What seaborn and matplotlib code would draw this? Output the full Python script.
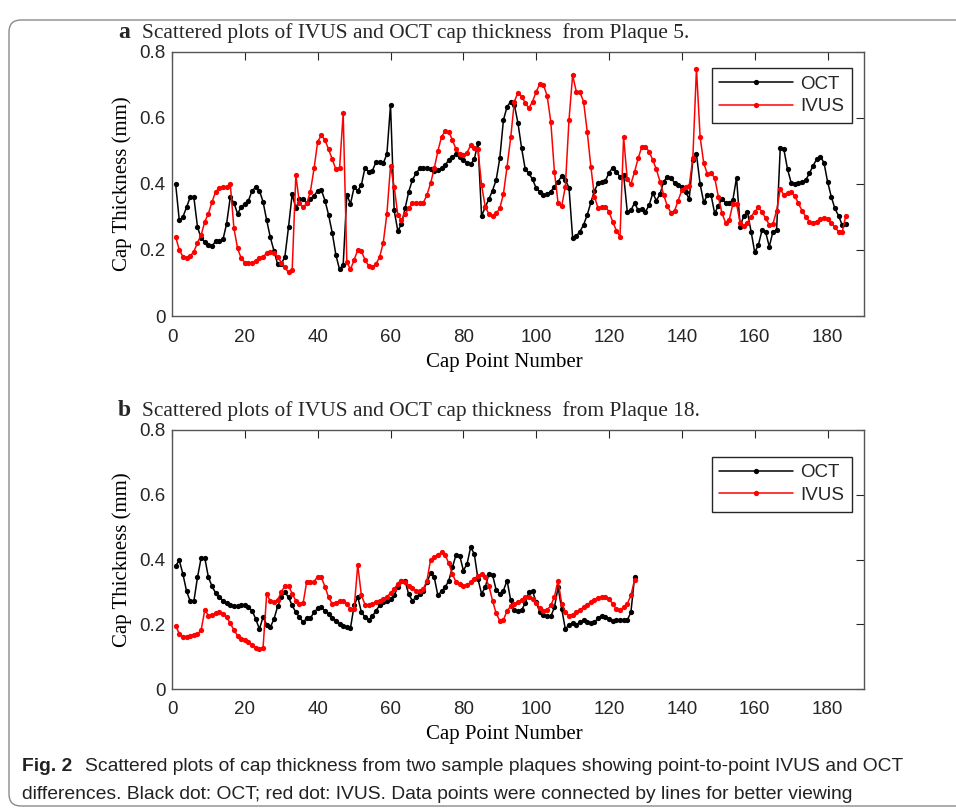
import numpy as np
import pandas as pd
import seaborn as sns
import matplotlib.pyplot as plt
from matplotlib.patches import FancyBboxPatch
from matplotlib.transforms import IdentityTransform

# cap thickness (mm), one value per cap point
oct_a = [0.40, 0.29, 0.30, 0.33, 0.36, 0.36, 0.27, 0.235, 0.225, 0.215,
         0.212, 0.227, 0.227, 0.232, 0.28, 0.36, 0.343, 0.31, 0.33, 0.34,
         0.35, 0.38, 0.39, 0.38, 0.346, 0.29, 0.238, 0.198, 0.157, 0.157,
         0.18, 0.27, 0.37, 0.326, 0.354, 0.354, 0.343, 0.356, 0.364, 0.38,
         0.382, 0.35, 0.306, 0.252, 0.185, 0.141, 0.155, 0.367, 0.34, 0.39,
         0.38, 0.397, 0.45, 0.436, 0.44, 0.466, 0.466, 0.463, 0.49, 0.64,
         0.32, 0.258, 0.278, 0.326, 0.377, 0.412, 0.432, 0.447, 0.447, 0.447,
         0.444, 0.44, 0.442, 0.447, 0.457, 0.473, 0.483, 0.49, 0.483, 0.473,
         0.465, 0.46, 0.475, 0.525, 0.303, 0.33, 0.354, 0.38, 0.412, 0.478,
         0.594, 0.634, 0.65, 0.64, 0.584, 0.508, 0.444, 0.432, 0.414, 0.387,
         0.377, 0.367, 0.369, 0.377, 0.392, 0.407, 0.424, 0.412, 0.389, 0.237,
         0.242, 0.256, 0.276, 0.306, 0.344, 0.38, 0.402, 0.407, 0.41, 0.434,
         0.45, 0.437, 0.422, 0.427, 0.316, 0.32, 0.343, 0.32, 0.323, 0.316,
         0.336, 0.372, 0.35, 0.37, 0.407, 0.422, 0.417, 0.404, 0.397, 0.392,
         0.377, 0.354, 0.473, 0.49, 0.40, 0.344, 0.367, 0.367, 0.311, 0.334,
         0.354, 0.343, 0.341, 0.352, 0.419, 0.271, 0.304, 0.314, 0.256, 0.193,
         0.215, 0.26, 0.254, 0.21, 0.256, 0.26, 0.508, 0.505, 0.445, 0.404,
         0.40, 0.402, 0.405, 0.412, 0.432, 0.455, 0.475, 0.483, 0.465, 0.407,
         0.362, 0.326, 0.304, 0.276, 0.28]

ivus_a = [0.24, 0.20, 0.18, 0.175, 0.182, 0.195, 0.222, 0.245, 0.286, 0.31,
          0.346, 0.377, 0.387, 0.392, 0.39, 0.40, 0.266, 0.205, 0.175, 0.162,
          0.16, 0.16, 0.167, 0.175, 0.18, 0.19, 0.193, 0.19, 0.18, 0.162,
          0.147, 0.132, 0.139, 0.427, 0.341, 0.33, 0.341, 0.377, 0.447, 0.528,
          0.548, 0.533, 0.505, 0.475, 0.444, 0.447, 0.614, 0.165, 0.141, 0.17,
          0.20, 0.197, 0.17, 0.152, 0.147, 0.158, 0.178, 0.222, 0.309, 0.455,
          0.392, 0.306, 0.29, 0.309, 0.326, 0.341, 0.341, 0.341, 0.343, 0.367,
          0.402, 0.447, 0.50, 0.543, 0.56, 0.558, 0.533, 0.505, 0.49, 0.488,
          0.495, 0.517, 0.508, 0.505, 0.397, 0.331, 0.309, 0.303, 0.311, 0.326,
          0.37, 0.453, 0.541, 0.65, 0.677, 0.665, 0.646, 0.63, 0.65, 0.68,
          0.703, 0.70, 0.667, 0.589, 0.437, 0.343, 0.333, 0.392, 0.594, 0.73,
          0.68, 0.678, 0.65, 0.559, 0.453, 0.362, 0.326, 0.331, 0.331, 0.316,
          0.286, 0.259, 0.24, 0.543, 0.414, 0.40, 0.437, 0.478, 0.513, 0.513,
          0.498, 0.473, 0.444, 0.407, 0.367, 0.333, 0.313, 0.319, 0.35, 0.382,
          0.392, 0.394, 0.478, 0.75, 0.543, 0.463, 0.43, 0.432, 0.419, 0.362,
          0.311, 0.283, 0.291, 0.34, 0.34, 0.283, 0.273, 0.283, 0.301, 0.316,
          0.329, 0.316, 0.296, 0.276, 0.279, 0.319, 0.384, 0.367, 0.372, 0.377,
          0.364, 0.341, 0.319, 0.301, 0.286, 0.283, 0.286, 0.293, 0.296, 0.293,
          0.283, 0.269, 0.256, 0.254, 0.303]

oct_b = [0.381, 0.397, 0.355, 0.302, 0.271, 0.271, 0.345, 0.405, 0.405, 0.345,
         0.317, 0.296, 0.283, 0.273, 0.265, 0.258, 0.255, 0.256, 0.258, 0.258,
         0.252, 0.242, 0.216, 0.185, 0.222, 0.199, 0.191, 0.216, 0.255, 0.283,
         0.299, 0.283, 0.258, 0.237, 0.222, 0.206, 0.219, 0.219, 0.237, 0.249,
         0.252, 0.242, 0.232, 0.219, 0.211, 0.201, 0.196, 0.191, 0.188, 0.258,
         0.285, 0.237, 0.222, 0.214, 0.224, 0.242, 0.258, 0.268, 0.273, 0.278,
         0.289, 0.316, 0.335, 0.333, 0.292, 0.273, 0.283, 0.294, 0.304, 0.33,
         0.358, 0.345, 0.289, 0.302, 0.314, 0.335, 0.376, 0.415, 0.412, 0.366,
         0.386, 0.438, 0.417, 0.34, 0.294, 0.314, 0.355, 0.353, 0.306, 0.294,
         0.304, 0.335, 0.274, 0.243, 0.24, 0.244, 0.265, 0.299, 0.302, 0.268,
         0.237, 0.229, 0.224, 0.224, 0.252, 0.314, 0.247, 0.185, 0.199, 0.203,
         0.199, 0.206, 0.213, 0.206, 0.203, 0.206, 0.219, 0.227, 0.222, 0.216,
         0.211, 0.214, 0.214, 0.213, 0.213, 0.237, 0.345]

ivus_b = [0.196, 0.17, 0.162, 0.162, 0.165, 0.168, 0.17, 0.182, 0.244, 0.227,
          0.23, 0.234, 0.237, 0.232, 0.222, 0.203, 0.182, 0.165, 0.155, 0.151,
          0.144, 0.137, 0.127, 0.124, 0.127, 0.294, 0.271, 0.268, 0.275, 0.299,
          0.319, 0.319, 0.294, 0.273, 0.263, 0.265, 0.332, 0.33, 0.332, 0.347,
          0.345, 0.316, 0.283, 0.263, 0.265, 0.273, 0.273, 0.263, 0.247, 0.247,
          0.383, 0.289, 0.261, 0.258, 0.263, 0.268, 0.273, 0.278, 0.285, 0.296,
          0.309, 0.325, 0.333, 0.33, 0.319, 0.311, 0.304, 0.302, 0.309, 0.335,
          0.399, 0.407, 0.414, 0.422, 0.414, 0.388, 0.355, 0.33, 0.325, 0.319,
          0.321, 0.33, 0.34, 0.35, 0.355, 0.345, 0.319, 0.273, 0.234, 0.211,
          0.213, 0.242, 0.255, 0.263, 0.268, 0.276, 0.283, 0.285, 0.278, 0.265,
          0.25, 0.242, 0.244, 0.258, 0.285, 0.335, 0.263, 0.237, 0.227, 0.23,
          0.237, 0.244, 0.252, 0.261, 0.268, 0.275, 0.281, 0.285, 0.285, 0.278,
          0.263, 0.247, 0.244, 0.252, 0.263, 0.289, 0.337]

x_ticks = [0, 20, 40, 60, 80, 100, 120, 140, 160, 180]
y_ticks = [0, 0.2, 0.4, 0.6, 0.8]
y_tick_labels = ['0', '0.2', '0.4', '0.6', '0.8']

titles = ['Scattered plots of IVUS and OCT cap thickness  from Plaque 5.',
          'Scattered plots of IVUS and OCT cap thickness  from Plaque 18.']
panel_letters = ['a', 'b']


def long_table(oct_vals, ivus_vals):
    n = len(oct_vals)
    pts = np.arange(1, n + 1)
    return pd.DataFrame({
        'point': np.concatenate([pts, pts]),
        'thickness': np.concatenate([oct_vals, ivus_vals]),
        'method': ['OCT'] * n + ['IVUS'] * n,
    })


sns.set_style('white')
plt.rcParams['font.family'] = ['Liberation Sans', 'DejaVu Sans']
serif = ['Liberation Serif', 'DejaVu Serif']
dark = '#262626'

W, H = 956, 810
fig = plt.figure(figsize=(W / 100, H / 100), dpi=100)

# frame around the whole figure, open on the right
fig.patches.append(FancyBboxPatch((9, 4), 1100, 786,
                                  boxstyle='round,pad=0,rounding_size=12',
                                  transform=IdentityTransform(),
                                  facecolor='none', edgecolor='#8a8a8a', lw=1.0))

ax_left, ax_right = 172, 864
panels = [(52, 316, oct_a, ivus_a, 0.939, 38), (430, 689, oct_b, ivus_b, 0.897, 416)]

for i, (top, bot, o, v, leg_y, title_y) in enumerate(panels):
    ax = fig.add_axes([ax_left / W, 1 - bot / H, (ax_right - ax_left) / W, (bot - top) / H])
    df = long_table(o, v)
    sns.lineplot(data=df, x='point', y='thickness', hue='method',
                 palette={'OCT': 'black', 'IVUS': '#ff0000'},
                 marker='o', markersize=3.8, markeredgewidth=0,
                 linewidth=1.1, ax=ax)
    ax.set_xlim(0, 190)
    ax.set_ylim(0, 0.8)
    ax.set_xticks(x_ticks)
    ax.set_yticks(y_ticks)
    ax.set_yticklabels(y_tick_labels)
    ax.tick_params(direction='in', length=6, width=0.8, top=True, right=True,
                   color=dark, labelcolor=dark, labelsize=13.5)
    ax.tick_params(axis='y', pad=4.5)
    ax.tick_params(axis='x', pad=9)
    for s in ax.spines.values():
        s.set_color('#555555')
        s.set_linewidth(1.0)
    ax.set_xlabel('Cap Point Number', family=serif, fontsize=15, color='black')
    ax.set_ylabel('Cap Thickness (mm)', family=serif, fontsize=15, color='black')
    ax.xaxis.set_label_coords(0.48, -36.5 / (bot - top))
    ax.yaxis.set_label_coords(-0.058, 0.5)

    handles, labels = ax.get_legend_handles_labels()
    ax.legend(handles, labels, loc='upper right', bbox_to_anchor=(0.982, leg_y),
              borderaxespad=0, frameon=True, fancybox=False, edgecolor=dark,
              framealpha=1, fontsize=13.5, handlelength=3.9, handletextpad=0.4,
              labelspacing=0.3, borderpad=0.4, numpoints=1)
    ax.get_legend().get_frame().set_linewidth(1.0)

    fig.text(118 / W, 1 - title_y / H, panel_letters[i], family=serif,
             fontsize=17, fontweight='bold', va='baseline')
    fig.text(142 / W, 1 - title_y / H, titles[i], family=serif,
             fontsize=15.4, va='baseline')

cap = ['Liberation Sans Narrow', 'Liberation Sans', 'DejaVu Sans']
fig.text(22 / W, 1 - 771 / H, 'Fig. 2', family=cap, fontsize=13.85, fontweight='bold',
         va='baseline', color='#222222')
fig.text(85 / W, 1 - 771 / H,
         'Scattered plots of cap thickness from two sample plaques showing '
         'point-to-point IVUS and OCT', family=cap, fontsize=13.85, va='baseline',
         color='#222222')
fig.text(22 / W, 1 - 799 / H,
         'differences. Black dot: OCT; red dot: IVUS. Data points were connected '
         'by lines for better viewing', family=cap, fontsize=13.85, va='baseline',
         color='#222222')

fig.savefig('out.png', dpi=100)
